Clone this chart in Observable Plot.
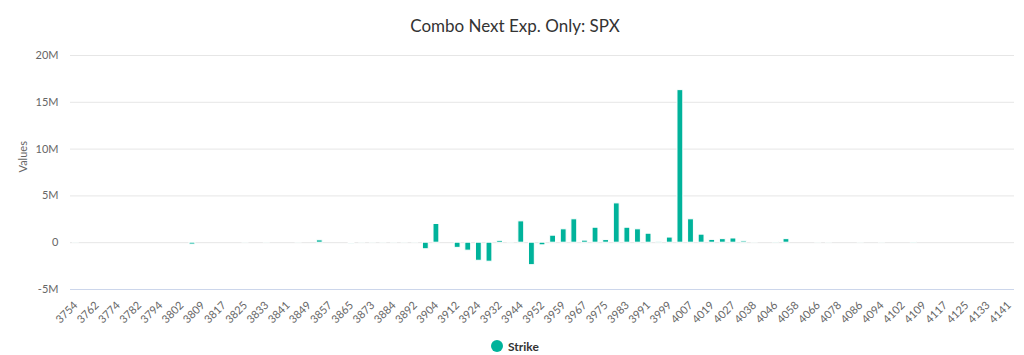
<!DOCTYPE html>
<html>
<head>
<meta charset="utf-8">
<script src="https://cdn.jsdelivr.net/npm/d3@7"></script>
<script src="https://cdn.jsdelivr.net/npm/@observablehq/plot@0.6"></script>
<style>
  html, body { margin: 0; padding: 0; background: #fff; overflow: hidden; }
  body { width: 1024px; height: 355px; position: relative; font-family: Lato, "Open Sans", sans-serif; }
  #title { position: absolute; left: 0; top: 0; width: 1024px; height: 45px; box-sizing: border-box;
           padding-left: 6px; padding-top: 16px; text-align: center; font-size: 17px; line-height: 20px; color: #333; }
  #chart { position: absolute; left: 0; top: 45px; }
  #legend { position: absolute; left: 491px; top: 336px; height: 20px; display: flex; align-items: center;
            font-size: 12px; font-weight: bold; color: #333; }
  #legend .dot { width: 12px; height: 12px; border-radius: 50%; background: #00b39b; margin-right: 5px; }
</style>
</head>
<body>
<div id="title">Combo Next Exp. Only: SPX</div>
<div id="chart"></div>
<div id="legend"><span class="dot"></span><span>Strike</span></div>
<script>
// Strike categories (even positions are the labelled ones)
const strikes = [3754,3760,3762,3770,3774,3780,3782,3790,3794,3800,
  3802,3805,3809,3815,3817,3820,3825,3830,3833,3840,
  3841,3845,3849,3850,3857,3860,3865,3870,3873,3880,
  3884,3890,3892,3900,3904,3910,3912,3920,3924,3930,
  3932,3940,3944,3950,3952,3955,3959,3965,3967,3970,
  3975,3980,3983,3990,3991,3995,3999,4000,4007,4010,
  4019,4025,4027,4030,4038,4040,4046,4050,4058,4060,
  4066,4075,4078,4080,4086,4090,4094,4100,4102,4105,
  4109,4115,4117,4120,4125,4130,4133,4140,4141];

// Values in millions
const values = [0.01,0,0,0,0,0,0,0,0,0,
  0,-0.2,0,0,0,0,0.01,0,0.01,0,
  0,0.01,0,0.25,0,0,-0.1,0.01,0.01,0.01,
  0.01,0.01,0.01,-0.7,2.0,0,-0.55,-0.85,-1.93,-2.03,
  0.2,0.01,2.28,-2.4,-0.28,0.75,1.43,2.5,0.22,1.6,
  0.28,4.2,1.6,1.43,0.96,0.05,0.55,16.3,2.5,0.86,
  0.3,0.38,0.45,0.15,0.01,0,0.08,0.38,0,0,
  0.01,0.01,0,0,0.01,0,0.01,0,0,0.08,
  0,0,0,0,0,0,0,0,0];

const tickLabels = strikes.filter((d, i) => i % 2 === 0);
const yTicks = [-5, 0, 5, 10, 15, 20];

const data = strikes.map((s, i) => ({strike: s, value: values[i]}));

const chart = Plot.plot({
  width: 1024,
  height: 290,
  marginTop: 10,
  marginBottom: 46,
  marginLeft: 70,
  marginRight: 10,
  style: {fontFamily: "Lato, 'Open Sans', sans-serif", fontSize: "11px", color: "#666", background: "#fff"},
  x: {type: "band", domain: strikes, paddingInner: 0.45, paddingOuter: 0.225},
  y: {domain: [-5, 20]},
  marks: [
    Plot.ruleY(yTicks.filter(d => d !== -5), {stroke: "#e6e6e6", strokeWidth: 1}),
    Plot.ruleY([-5], {stroke: "#ccd6eb", strokeWidth: 1}),
    Plot.barY(data, {x: "strike", y: "value", fill: "#00b39b", stroke: "#fff", strokeWidth: 1}),
    Plot.axisY({ticks: yTicks, tickSize: 0, tickPadding: 12, label: null,
      tickFormat: d => d === 0 ? "0" : d + "M"}),
    Plot.axisX({ticks: tickLabels, tickRotate: -45, tickSize: 0, tickPadding: 14, label: null,
      tickFormat: d => String(d)}),
    Plot.text(["Values"], {frameAnchor: "left", rotate: -90, dx: -47, fill: "#666", fontSize: 11})
  ]
});
document.getElementById("chart").appendChild(chart);
</script>
</body>
</html>
